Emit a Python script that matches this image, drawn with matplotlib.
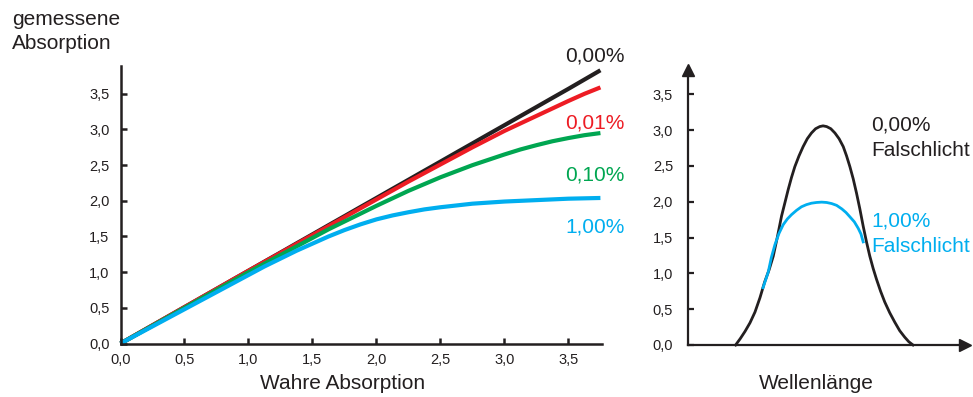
import matplotlib.pyplot as plt
import numpy as np

plt.rcParams["font.family"] = ["Liberation Sans", "DejaVu Sans"]

DARK = "#231f20"
RED = "#ed1c24"
GREEN = "#00a651"
BLUE = "#00aeef"

# left chart: true vs measured absorbance for several stray light levels
true_abs = [0, 0.25, 0.5, 0.75, 0.875, 1.0, 1.125, 1.25, 1.375, 1.5, 1.625, 1.75, 1.875,
            2.0, 2.125, 2.25, 2.375, 2.5, 2.625, 2.75, 2.875, 3.0, 3.125, 3.25, 3.375,
            3.5, 3.625, 3.75]
meas_000 = [0, 0.255, 0.51, 0.765, 0.893, 1.02, 1.148, 1.275, 1.403, 1.53, 1.658, 1.785,
            1.913, 2.04, 2.168, 2.295, 2.423, 2.55, 2.678, 2.805, 2.933, 3.06, 3.188,
            3.315, 3.443, 3.57, 3.70, 3.83]
meas_001 = [0, 0.255, 0.51, 0.765, 0.893, 1.02, 1.145, 1.27, 1.395, 1.52, 1.645, 1.77,
            1.895, 2.02, 2.145, 2.27, 2.39, 2.51, 2.63, 2.75, 2.865, 2.98, 3.085, 3.19,
            3.295, 3.40, 3.50, 3.59]
meas_010 = [0, 0.25, 0.50, 0.75, 0.875, 1.00, 1.12, 1.24, 1.36, 1.48, 1.60, 1.71, 1.82,
            1.93, 2.035, 2.14, 2.235, 2.33, 2.415, 2.50, 2.575, 2.65, 2.72, 2.78, 2.835,
            2.88, 2.92, 2.95]
meas_100 = [0, 0.24, 0.48, 0.72, 0.84, 0.96, 1.08, 1.19, 1.30, 1.40, 1.50, 1.59, 1.67,
            1.74, 1.795, 1.84, 1.88, 1.91, 1.935, 1.96, 1.975, 1.99, 2.00, 2.01, 2.02,
            2.03, 2.035, 2.04]
series_labels = ["0,00%", "0,01%", "0,10%", "1,00%"]
label_y = [3.95, 3.02, 2.28, 1.55]

# right chart: absorption band with and without stray light
wl_black = [17.1, 18.8, 20.5, 22.3, 24.1, 25.9, 27.6, 29.2, 30.7, 32.2, 33.7, 35.0, 36.1,
            37.3, 38.5, 40.0, 41.5, 43.0, 44.5, 46.0, 47.5, 48.7, 50.0, 51.5, 53.0, 54.5,
            56.0, 57.2, 58.4, 59.6, 60.8, 62.0, 63.2, 64.4, 65.6, 66.8, 68.0, 69.5, 71.0,
            72.8, 74.6, 76.4, 78.2, 79.7, 81.2]
band_black = [0, 0.09, 0.19, 0.31, 0.46, 0.66, 0.88, 1.05, 1.24, 1.51, 1.80, 2.00, 2.17,
              2.34, 2.49, 2.64, 2.77, 2.88, 2.96, 3.02, 3.05, 3.06, 3.05, 3.02, 2.96, 2.88,
              2.77, 2.64, 2.49, 2.32, 2.12, 1.90, 1.66, 1.44, 1.24, 1.07, 0.92, 0.75, 0.60,
              0.45, 0.32, 0.20, 0.11, 0.045, 0]
wl_blue = [27.0, 28.9, 30.0, 31.3, 32.8, 34.3, 35.8, 37.3, 39.1, 40.9, 42.7, 44.5, 46.3,
           48.2, 50.0, 51.8, 53.6, 55.5, 57.0, 58.4, 60.0, 61.4, 62.4, 63.2]
band_blue = [0.80, 1.02, 1.22, 1.40, 1.56, 1.68, 1.76, 1.82, 1.88, 1.93, 1.96, 1.98, 1.99,
             1.995, 1.99, 1.975, 1.95, 1.90, 1.85, 1.79, 1.72, 1.63, 1.55, 1.44]

ticks = [0, 0.5, 1.0, 1.5, 2.0, 2.5, 3.0, 3.5]
tick_labels = ["0,0", "0,5", "1,0", "1,5", "2,0", "2,5", "3,0", "3,5"]

W, H = 973, 397
fig = plt.figure(figsize=(W / 100, H / 100), dpi=100)

ax1 = fig.add_axes([120.5 / W, (H - 343.5) / H, 481.2 / W, 277.5 / H])
colors = [DARK, RED, GREEN, BLUE]
for ys, c in zip([meas_000, meas_001, meas_010, meas_100], colors):
    ax1.plot(true_abs, ys, color=c, lw=3.0, solid_capstyle="butt",
             solid_joinstyle="round", clip_on=False)
for lab, ly, c in zip(series_labels, label_y, colors):
    ax1.text(3.94, ly, lab, color=c, fontsize=15, ha="right", va="baseline", clip_on=False)
ax1.set_xlim(0, 3.76)
ax1.set_ylim(0, 3.89)
ax1.set_xticks(ticks)
ax1.set_xticklabels(tick_labels)
ax1.set_yticks(ticks)
ax1.set_yticklabels(tick_labels)
for s in ["top", "right"]:
    ax1.spines[s].set_visible(False)
for s in ["left", "bottom"]:
    ax1.spines[s].set_linewidth(1.8)
    ax1.spines[s].set_color(DARK)
ax1.tick_params(direction="in", length=4, width=1.8, color=DARK,
                labelsize=10.5, labelcolor=DARK)
ax1.tick_params(axis="y", pad=8)
ax1.tick_params(axis="x", pad=7)

ax2 = fig.add_axes([688.3 / W, (H - 345) / H, 276.7 / W, 275 / H])
ax2.plot(wl_black, band_black, color=DARK, lw=2.0, solid_joinstyle="round", clip_on=False)
ax2.plot(wl_blue, band_blue, color=BLUE, lw=2.0, solid_joinstyle="round", clip_on=False)
ax2.set_xlim(0, 100)
ax2.set_ylim(0, 3.84)
ax2.set_xticks([])
ax2.set_yticks(ticks)
ax2.set_yticklabels(tick_labels)
for s in ["top", "right"]:
    ax2.spines[s].set_visible(False)
for s in ["left", "bottom"]:
    ax2.spines[s].set_linewidth(1.6)
    ax2.spines[s].set_color(DARK)
ax2.tick_params(direction="in", length=4, width=1.6, color=DARK,
                labelsize=10.5, labelcolor=DARK, pad=11)
ax2.plot(1, 0, ">", color=DARK, ms=8, transform=ax2.transAxes, clip_on=False)
ax2.plot(0, 1, "^", color=DARK, ms=8, transform=ax2.transAxes, clip_on=False)
ax2.text(66.2, 2.99, "0,00%", color=DARK, fontsize=15, va="baseline", clip_on=False)
ax2.text(66.2, 2.64, "Falschlicht", color=DARK, fontsize=15, va="baseline", clip_on=False)
ax2.text(66.2, 1.66, "1,00%", color=BLUE, fontsize=15, va="baseline", clip_on=False)
ax2.text(66.2, 1.30, "Falschlicht", color=BLUE, fontsize=15, va="baseline", clip_on=False)

fig.text(12 / W, 1 - 25 / H, "gemessene", fontsize=15, color=DARK, va="baseline")
fig.text(12 / W, 1 - 49.3 / H, "Absorption", fontsize=15, color=DARK, va="baseline")
fig.text(343 / W, 1 - 389 / H, "Wahre Absorption", fontsize=15, color=DARK,
         ha="center", va="baseline")
fig.text(816.7 / W, 1 - 389 / H, "Wellenlänge", fontsize=15, color=DARK,
         ha="center", va="baseline")

fig.savefig("out.png", dpi=100)
